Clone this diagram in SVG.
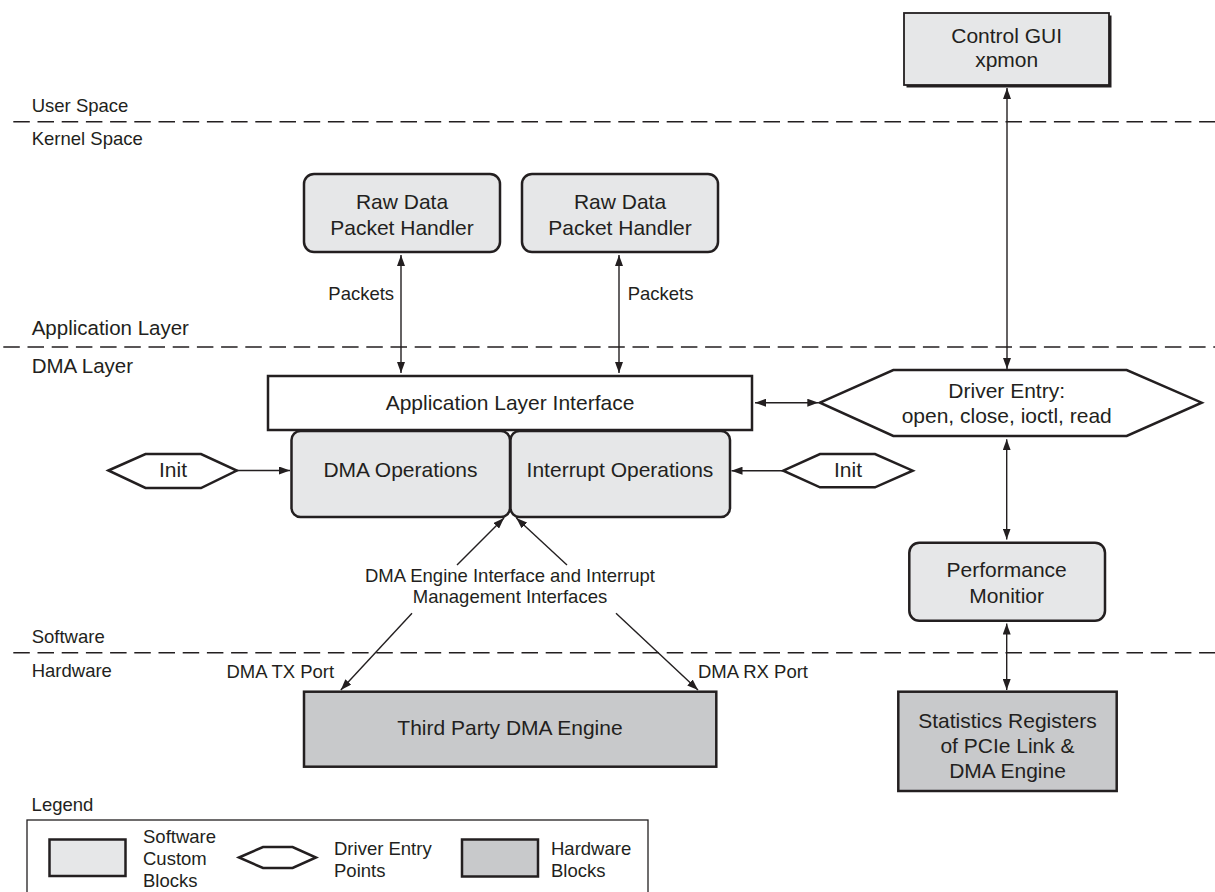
<svg xmlns="http://www.w3.org/2000/svg" width="1215" height="892" viewBox="0 0 1215 892">
<defs>
<marker id="ah" markerUnits="userSpaceOnUse" markerWidth="11" markerHeight="8" refX="11" refY="4" orient="auto-start-reverse"><path d="M0,0 L11,4 L0,8 z" fill="#231f20"/></marker>
</defs>
<style>
text{font-family:"Liberation Sans",Arial,Helvetica,sans-serif;fill:#231f20}
.n{font-size:21px;text-anchor:middle}
.m{font-size:18.5px;text-anchor:middle}
.l{font-size:18.5px}
.ll{font-size:20.5px}
.sw{fill:#e6e7e8;stroke:#231f20;stroke-width:2.5}
.hw{fill:#c8c9cb;stroke:#231f20;stroke-width:2.5}
.wh{fill:#fff;stroke:#231f20;stroke-width:2.5}
.dash{stroke:#231f20;stroke-width:1.4;stroke-dasharray:16.5 7.7;fill:none}
.c{stroke:#231f20;stroke-width:1.4;fill:none}
.c2{stroke:#231f20;stroke-width:1.4;fill:none;marker-start:url(#ah);marker-end:url(#ah)}
.c1{stroke:#231f20;stroke-width:1.4;fill:none;marker-end:url(#ah)}
</style>
<rect width="1215" height="892" fill="#fff"/>

<g id="layers">
<line class="dash" x1="13.3" y1="121.7" x2="1215" y2="121.7"/>
<line class="dash" x1="3.3" y1="347" x2="1215" y2="347"/>
<line class="dash" x1="13.3" y1="652.7" x2="1215" y2="652.7"/>
<text class="l" x="31.7" y="111.7">User Space</text>
<text class="l" x="31.7" y="145">Kernel Space</text>
<text class="ll" x="31.7" y="335">Application Layer</text>
<text class="ll" x="31.7" y="373">DMA Layer</text>
<text class="l" x="31.7" y="643.3">Software</text>
<text class="l" x="31.7" y="677.3">Hardware</text>
</g>

<g id="connectors">
<line class="c2" x1="1007" y1="88" x2="1007" y2="369"/>
<line class="c2" x1="401" y1="255" x2="401" y2="373"/>
<line class="c2" x1="619" y1="255" x2="619" y2="373"/>
<line class="c2" x1="755" y1="402.7" x2="818.3" y2="402.7"/>
<line class="c2" x1="1006.7" y1="439.3" x2="1006.7" y2="539.5"/>
<line class="c2" x1="1006.7" y1="623.5" x2="1006.7" y2="690"/>
<line class="c1" x1="236.8" y1="470.5" x2="290" y2="470.5"/>
<line class="c1" x1="783.3" y1="470.7" x2="731.5" y2="470.7"/>
<line class="c1" x1="457" y1="565" x2="504" y2="518"/>
<line class="c1" x1="567" y1="565" x2="516.3" y2="518"/>
<line class="c1" x1="412" y1="613.3" x2="340.8" y2="690"/>
<line class="c1" x1="616" y1="613.3" x2="698" y2="690"/>
<text class="l" x="328.3" y="299.5">Packets</text>
<text class="l" x="627.7" y="299.5">Packets</text>
<text class="m" x="510" y="581.7">DMA Engine Interface and Interrupt</text>
<text class="m" x="510" y="603.3">Management Interfaces</text>
<text class="l" x="226.5" y="678.3">DMA TX Port</text>
<text class="l" x="698" y="678.3">DMA RX Port</text>
</g>

<g id="control-gui">
<rect x="906.5" y="15.5" width="205" height="72" fill="#231f20"/>
<rect x="904" y="13" width="205" height="72" fill="#e6e7e8" stroke="#231f20" stroke-width="1.8"/>
<text class="n" x="1006.7" y="43.3">Control GUI</text>
<text class="n" x="1006.7" y="66.7">xpmon</text>
</g>

<g id="raw-handler-1">
<rect class="sw" x="304" y="174" width="196" height="78" rx="10"/>
<text class="n" x="402" y="209.3">Raw Data</text>
<text class="n" x="402" y="235">Packet Handler</text>
</g>

<g id="raw-handler-2">
<rect class="sw" x="522" y="174" width="196" height="78" rx="10"/>
<text class="n" x="620" y="209.3">Raw Data</text>
<text class="n" x="620" y="235">Packet Handler</text>
</g>

<g id="app-layer-interface">
<rect class="wh" x="268" y="376" width="484" height="54"/>
<text class="n" x="510" y="410">Application Layer Interface</text>
</g>

<g id="dma-operations">
<rect class="sw" x="291.5" y="431" width="218.5" height="86" rx="9"/>
<text class="n" x="400.5" y="477">DMA Operations</text>
</g>

<g id="interrupt-operations">
<rect class="sw" x="510.5" y="431" width="219.5" height="86" rx="9"/>
<text class="n" x="620" y="477">Interrupt Operations</text>
</g>

<g id="init-left">
<polygon class="wh" points="108.4,470.5 145.5,454 201,454 236.8,470.5 201,488 145.5,488"/>
<text class="n" x="173" y="477.3">Init</text>
</g>

<g id="init-right">
<polygon class="wh" points="783.3,470.7 820,454 875,454 912.7,470.7 875,487.3 820,487.3"/>
<text class="n" x="848" y="477.3">Init</text>
</g>

<g id="driver-entry">
<polygon class="wh" points="820,402.7 893.3,370 1126.7,370 1201.7,402.7 1126.7,436 893.3,436"/>
<text class="n" x="1006.7" y="398.3">Driver Entry:</text>
<text class="n" x="1006.7" y="423.3">open, close, ioctl, read</text>
</g>

<g id="performance-monitor">
<rect class="sw" x="909.3" y="542.7" width="195.7" height="78" rx="10"/>
<text class="n" x="1006.7" y="577.3">Performance</text>
<text class="n" x="1006.7" y="603.3">Monitior</text>
</g>

<g id="statistics-registers">
<rect class="hw" x="898.3" y="691.7" width="218.4" height="99.3"/>
<text class="n" x="1007.5" y="728.3">Statistics Registers</text>
<text class="n" x="1007.5" y="753.3">of PCIe Link &amp;</text>
<text class="n" x="1007.5" y="778.3">DMA Engine</text>
</g>

<g id="third-party-dma">
<rect class="hw" x="304" y="691.7" width="412.3" height="75"/>
<text class="n" x="510" y="735">Third Party DMA Engine</text>
</g>

<g id="legend">
<text class="l" x="31.6" y="810.7">Legend</text>
<rect x="27" y="820" width="621" height="80" fill="none" stroke="#231f20" stroke-width="1.3"/>
<rect class="sw" x="49.5" y="839.5" width="76" height="36.5"/>
<text class="l" x="143" y="843">Software</text>
<text class="l" x="143" y="865">Custom</text>
<text class="l" x="143" y="887">Blocks</text>
<polygon class="wh" points="239,857.5 263,847 292.6,847 316,857.5 292.6,868 263,868"/>
<text class="l" x="334" y="855">Driver Entry</text>
<text class="l" x="334" y="877">Points</text>
<rect class="hw" x="462" y="839.5" width="76" height="37"/>
<text class="l" x="551" y="855">Hardware</text>
<text class="l" x="551" y="876.5">Blocks</text>
</g>
</svg>
